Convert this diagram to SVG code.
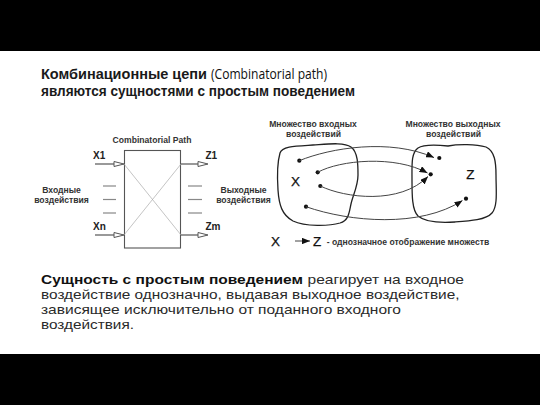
<svg xmlns="http://www.w3.org/2000/svg" width="540" height="405" viewBox="0 0 540 405">
<defs>
<style>
.bar{fill:#000}
.title{font-family:"Liberation Sans",Arial,sans-serif;font-size:14.5px;font-weight:700;fill:#1a1a1a}
.tnorm{font-family:"Open Sans","Liberation Sans",sans-serif;font-size:14.5px;fill:#111}
.body{font-family:"Liberation Sans",Arial,sans-serif;font-size:13.6px;fill:#2a2a2a}
.bold{font-weight:700;fill:#111}
.lbl{font-family:"Liberation Sans",Arial,sans-serif;font-weight:700;fill:#333}
.sm{font-size:8.6px}
.pin{font-size:10px;fill:#222}
.big{font-family:"Liberation Sans",Arial,sans-serif;font-size:13.5px;fill:#111;stroke:#111;stroke-width:0.25}
.wire{stroke:#555;stroke-width:1.2;fill:none}
.tri{stroke:#555;stroke-width:1;fill:#fff}
.dash{stroke:#888;stroke-width:1.2}
.diag{stroke:#aaa;stroke-width:0.7}
.blob{stroke:#222;stroke-width:1.3;fill:none}
.curve{stroke:#444;stroke-width:1;fill:none}
.dot{fill:#111}
</style>
<marker id="ah" viewBox="0 0 10 8" refX="10" refY="4" markerWidth="8" markerHeight="6.4" markerUnits="userSpaceOnUse" orient="auto">
<path d="M0,0 L10,4 L0,8 Z" fill="#111"/>
</marker>
</defs>
<rect width="540" height="405" fill="#fff"/>
<rect class="bar" x="0" y="0" width="540" height="51"/>
<rect class="bar" x="0" y="354" width="540" height="51"/>

<g id="title">
<text class="title" x="41" y="79" textLength="166" lengthAdjust="spacingAndGlyphs">Комбинационные цепи</text>
<text class="tnorm" x="211" y="79" textLength="116" lengthAdjust="spacingAndGlyphs">(Combinatorial path)</text>
<text class="title" x="41" y="96" textLength="314" lengthAdjust="spacingAndGlyphs">являются сущностями с простым поведением</text>
</g>

<g id="combinatorial-path">
<text class="lbl sm" x="152" y="142.5" text-anchor="middle">Combinatorial Path</text>
<rect x="124.5" y="150.5" width="56" height="97.5" fill="#fff" stroke="#555" stroke-width="1.1"/>
<line class="diag" x1="124" y1="164" x2="181" y2="235"/>
<line class="diag" x1="124" y1="235" x2="181" y2="164"/>
</g>

<g id="inputs">
<text class="lbl pin" x="93" y="159">X1</text>
<line class="wire" x1="95" y1="164" x2="114" y2="164"/>
<path class="tri" d="M114,161.5 L124,164 L114,166.5 Z"/>
<text class="lbl pin" x="93" y="230">Xn</text>
<line class="wire" x1="95" y1="235" x2="114" y2="235"/>
<path class="tri" d="M114,232.5 L124,235 L114,237.5 Z"/>
<line class="dash" x1="103" y1="186" x2="116" y2="186"/>
<line class="dash" x1="103" y1="199.5" x2="116" y2="199.5"/>
<line class="dash" x1="103" y1="213" x2="116" y2="213"/>
<text class="lbl sm" x="61.5" y="192.5" text-anchor="middle">Входные</text>
<text class="lbl sm" x="61.5" y="202.5" text-anchor="middle">воздействия</text>
</g>

<g id="outputs">
<text class="lbl pin" x="205.5" y="159">Z1</text>
<line class="wire" x1="181" y1="164" x2="198" y2="164"/>
<path class="tri" d="M198,161.5 L208,164 L198,166.5 Z"/>
<text class="lbl pin" x="205.5" y="230">Zm</text>
<line class="wire" x1="181" y1="235" x2="198" y2="235"/>
<path class="tri" d="M198,232.5 L208,235 L198,237.5 Z"/>
<line class="dash" x1="188" y1="186" x2="202" y2="186"/>
<line class="dash" x1="188" y1="199.5" x2="202" y2="199.5"/>
<line class="dash" x1="188" y1="213" x2="202" y2="213"/>
<text class="lbl sm" x="243.5" y="192.5" text-anchor="middle">Выходные</text>
<text class="lbl sm" x="243.5" y="202.5" text-anchor="middle">воздействия</text>
</g>

<g id="set-x">
<text class="lbl sm" x="313" y="127.3" text-anchor="middle">Множество входных</text>
<text class="lbl sm" x="313.5" y="137.3" text-anchor="middle">воздействий</text>
<path class="blob" d="M280,153 C282,146 296,146 313,145 C328,144 344,142 351,147 C358,152 358,165 358,175 C358,186 353,195 351,204 C349,213 349,220 340,223 C330,226 305,227 293,221 C282,215 279,205 278,190 C277,175 278,160 280,153 Z"/>
<text class="big" x="295.5" y="185.5" text-anchor="middle">X</text>
<circle class="dot" cx="299.3" cy="160.7" r="2.1"/>
<circle class="dot" cx="317.7" cy="172.3" r="2.1"/>
<circle class="dot" cx="320.3" cy="186" r="2.1"/>
<circle class="dot" cx="306" cy="206.7" r="2.1"/>
</g>

<g id="set-z">
<text class="lbl sm" x="453" y="127.3" text-anchor="middle">Множество выходных</text>
<text class="lbl sm" x="453.5" y="137.3" text-anchor="middle">воздействий</text>
<path class="blob" d="M418,148 C424,144 438,145 448,146 C458,144 476,144 486,147 C495,151 496,163 496,175 C496,190 498,206 492,213 C486,220 470,221 455,222 C440,223 425,222 418,216 C412,210 412,195 412,180 C412,165 411,153 418,148 Z"/>
<text class="big" x="470.3" y="178.8" text-anchor="middle">Z</text>
<circle class="dot" cx="439.3" cy="158" r="2.1"/>
<circle class="dot" cx="430.7" cy="174.3" r="2.1"/>
<circle class="dot" cx="466" cy="198.7" r="2.1"/>
</g>

<g id="connectors">
<path class="curve" marker-end="url(#ah)" d="M299.3,160.7 C330,148 390,138 434,157.6"/>
<path class="curve" marker-end="url(#ah)" d="M317.7,172.3 C340,160 395,155 427.5,173"/>
<path class="curve" marker-end="url(#ah)" d="M320.3,186 C345,198 400,205 428,176.5"/>
<path class="curve" marker-end="url(#ah)" d="M306,206.7 C350,222 420,228 462.5,200.5"/>
</g>

<g id="legend">
<text class="big" x="275.5" y="245.5" text-anchor="middle">X</text>
<line class="curve" x1="295" y1="241" x2="310" y2="241" marker-end="url(#ah)"/>
<text class="big" x="317.2" y="245.5" text-anchor="middle">Z</text>
<text class="lbl sm" x="326.7" y="244.5">- однозначное отображение множеств</text>
</g>

<g id="paragraph">
<text class="body bold" x="41" y="283.5" textLength="262" lengthAdjust="spacingAndGlyphs">Сущность с простым поведением</text>
<text class="body" x="307.5" y="283.5" textLength="156.5" lengthAdjust="spacingAndGlyphs">реагирует на входное</text>
<text class="body" x="41" y="298.8" textLength="418.5" lengthAdjust="spacingAndGlyphs">воздействие однозначно, выдавая выходное воздействие,</text>
<text class="body" x="41" y="314.1" textLength="360" lengthAdjust="spacingAndGlyphs">зависящее исключительно от поданного входного</text>
<text class="body" x="41" y="329.4" textLength="93" lengthAdjust="spacingAndGlyphs">воздействия.</text>
</g>
</svg>
